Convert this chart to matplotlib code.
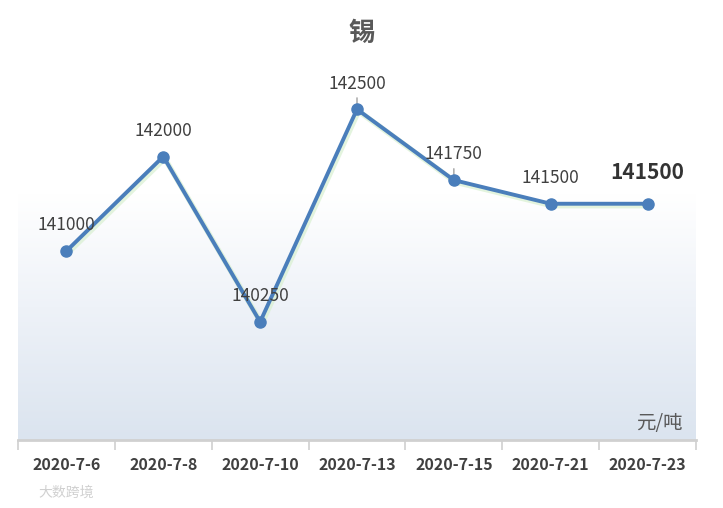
import numpy as np
import matplotlib.pyplot as plt
from matplotlib.colors import LinearSegmentedColormap

plt.rcParams['font.family'] = ['Noto Sans CJK SC', 'DejaVu Sans']

# data
dates = ['2020-7-6', '2020-7-8', '2020-7-10', '2020-7-13', '2020-7-15', '2020-7-21', '2020-7-23']
prices = [141000, 142000, 140250, 142500, 141750, 141500, 141500]
title = '锡'
unit = '元/吨'

fig = plt.figure(figsize=(7.23, 5.08), dpi=100)
ax = fig.add_axes([18 / 723, 68 / 508, 678 / 723, 378 / 508])
x = np.arange(len(dates))
ax.set_xlim(-0.5, len(dates) - 0.5)
ax.set_ylim(139000, 143000)

# gradient background: white at top fading to pale blue at bottom
cmap = LinearSegmentedColormap.from_list('bg', [(0, '#dbe4ef'), (0.35, '#eef2f8'), (0.65, '#ffffff'), (1, '#ffffff')])
grad = np.linspace(0, 1, 256).reshape(-1, 1)
ax.imshow(grad, cmap=cmap, aspect='auto', origin='lower',
          extent=[0, 1, 0, 1], transform=ax.transAxes, zorder=0)

# soft green glow under the line
ax.plot(x + 0.015, np.array(prices) - 20, color='#d8f0d0', lw=4, alpha=0.7,
        solid_capstyle='round', zorder=1)
ax.plot(x, prices, color='#4a7ebb', lw=2.8, marker='o', ms=8,
        markerfacecolor='#4a7ebb', markeredgecolor='#4a7ebb', zorder=3)

for i, (xi, v) in enumerate(zip(x, prices)):
    if i == len(prices) - 1:
        ax.annotate(f'{v}', (xi, v), xytext=(0, 15), textcoords='offset points',
                    ha='center', va='bottom', fontsize=15, fontweight='bold', color='#333333')
    else:
        ax.annotate(f'{v}', (xi, v), xytext=(0, 12), textcoords='offset points',
                    ha='center', va='bottom', fontsize=12.5, color='#404040')
# small leader lines on two labels
for i in (3, 4):
    ax.annotate('', (x[i], prices[i]), xytext=(x[i], prices[i] + 150),
                arrowprops=dict(arrowstyle='-', color='#a0a0a0', lw=1), zorder=2)

ax.set_xticks(x)
ax.set_xticklabels(dates, fontsize=11.5, fontweight='bold', color='#404040')
ax.set_xticks(np.arange(-0.5, len(dates)), minor=True)
ax.tick_params(axis='x', which='major', length=0, pad=12)
ax.tick_params(axis='x', which='minor', length=7, width=1.2, color='#d0d0d0')
ax.set_yticks([])
for s in ['top', 'right', 'left']:
    ax.spines[s].set_visible(False)
ax.spines['bottom'].set_color('#d0d0d0')
ax.spines['bottom'].set_linewidth(2)

ax.text(0.98, 0.015, unit, transform=ax.transAxes, ha='right', va='bottom',
        fontsize=14, color='#595959')
fig.text(362 / 723, 1 - 33 / 508, title, ha='center', va='center',
         fontsize=19, fontweight='bold', color='#595959')
fig.text(38 / 723, 1 - 493 / 508, '大数跨境', ha='left', va='center',
         fontsize=10, color='#d0d0d0')

fig.savefig('out.png', dpi=100)
